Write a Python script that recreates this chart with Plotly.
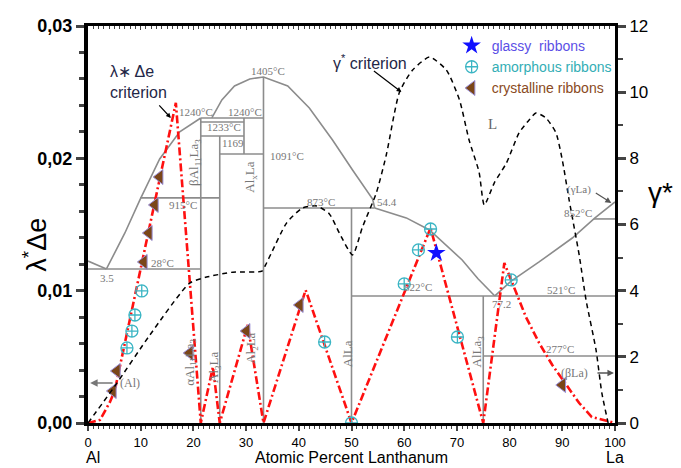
import plotly.graph_objects as go

# ---------------- data ----------------
# lambda*delta-e criterion (left axis)
lam_x = [0, 2.27, 4.17, 5.11, 16.67, 21.4, 23.7, 25.0, 30.3, 33.3, 41.3, 50.0, 65.0, 75.0, 79.0, 83.1, 85.6, 88.1, 93.2, 95.6, 100]
lam_y = [0, 0.00023, 0.00159, 0.0025, 0.02419, 0, 0.00423, 0, 0.00741, 0, 0.01005, 0, 0.01474, 0, 0.01209, 0.00801, 0.00605, 0.00438, 0.00151, 0.00045, 0]

# gamma* criterion (right axis)
gam_x = [0, 5.11, 11.74, 19.3, 22.5, 27.5, 33.0, 33.7, 34.8, 37.7, 40.7, 43.4, 45.8, 47.7, 50.2, 52.1, 54.7, 56.6, 59.1, 61.6, 64.8, 68.0, 70.5, 72.3, 74.2, 75.2, 77.1, 79.4, 81.8, 83.7, 85.0, 86.9, 88.8, 90.0, 91.3, 93.2, 94.5, 96.4, 97.5, 98.7]
gam_y = [0, 1.12, 2.66, 4.23, 4.41, 4.56, 4.59, 4.78, 5.14, 6.05, 6.50, 6.56, 6.32, 5.74, 5.08, 5.93, 6.95, 8.10, 10.0, 10.67, 11.06, 10.67, 9.76, 8.56, 7.59, 6.59, 7.26, 7.86, 8.77, 9.16, 9.37, 9.22, 8.77, 7.95, 6.74, 5.08, 3.72, 2.21, 0.91, 0]

# ribbons
glassy_x = [66.1]
glassy_y = [0.01285]
amorph_x = [7.39, 8.33, 8.9, 10.2, 44.9, 50.0, 60.0, 62.7, 65.0, 70.1, 80.3]
amorph_y = [0.00567, 0.00695, 0.00816, 0.00998, 0.00612, 0.0, 0.01051, 0.01308, 0.01466, 0.0065, 0.01081]
cryst_x = [4.73, 5.49, 10.6, 11.55, 12.7, 13.6, 19.3, 30.1, 40.2, 90.0]
cryst_y = [0.00242, 0.00393, 0.01217, 0.01436, 0.01648, 0.01859, 0.00529, 0.00695, 0.00892, 0.00287]

# Al-La phase diagram background (drawn in left-axis units)
liq_al_x = [0, 3.5]
liq_al_y = [0.01224, 0.01164]
liq1_x = [3.5, 7.0, 9.85, 13.6, 17.4, 21.4]
liq1_y = [0.01164, 0.01436, 0.01686, 0.01995, 0.0220, 0.02305]
dome_x = [23.5, 25.4, 27.8, 30.7, 33.3, 37.9, 42.0, 46.4, 50.2, 54.0, 54.4]
dome_y = [0.02305, 0.02441, 0.02547, 0.0260, 0.02615, 0.02547, 0.02381, 0.02139, 0.01912, 0.01693, 0.01625]
liq2_x = [54.4, 60.4, 64.8, 68.0, 71.0, 74.0, 77.2]
liq2_y = [0.01625, 0.0155, 0.01459, 0.01345, 0.01232, 0.0109, 0.0096]
liq3_x = [77.2, 80.3, 85.6, 91.9, 96.2, 100]
liq3_y = [0.0096, 0.01073, 0.01217, 0.01398, 0.0155, 0.0167]

iso_x0 = [0, 9.9, 21.4, 21.4, 21.4, 25, 33.3, 50, 75, 96.0]
iso_x1 = [21.4, 25, 33.3, 29.6, 29.6, 33.3, 54.4, 100, 100, 100]
iso_y = [0.01164, 0.01701, 0.02305, 0.02275, 0.02169, 0.02033, 0.01625, 0.0096, 0.00506, 0.01542]

comp_x = [21.4, 25, 29.6, 33.3, 50, 75]
comp_y0 = [0, 0, 0.02033, 0, 0, 0]
comp_y1 = [0.02305, 0.02169, 0.02305, 0.02615, 0.01625, 0.0096]

pd_labels = ["1240°C", "1240°C", "1233°C", "1169", "1091°C", "1405°C", "915°C", "28°C", "3.5",
             "873°C", "54.4", "822°C", "521°C", "77.2", "277°C", "852°C"]
pd_label_x = [20.5, 29.7, 25.8, 27.5, 37.7, 34.1, 18.0, 14.2, 3.6, 44.3, 56.8, 62.7, 89.8, 78.4, 89.6, 93.0]
pd_label_y = [0.02351, 0.02351, 0.02237, 0.02116, 0.02018, 0.02661, 0.01648, 0.01209, 0.01096,
              0.0167, 0.0167, 0.01028, 0.01005, 0.0090, 0.00559, 0.01587]

phase_names = ["βAl<sub>11</sub>La<sub>3</sub>", "Al<sub>x</sub>La", "αAl<sub>11</sub>La<sub>3</sub>",
               "Al<sub>3</sub>La", "Al<sub>2</sub>La", "AlLa", "AlLa<sub>3</sub>"]
phase_x = [20.3, 30.9, 19.5, 23.9, 31.1, 49.4, 73.9]
phase_y = [0.01973, 0.0186, 0.00461, 0.00423, 0.00567, 0.00522, 0.00544]

x_ticks = list(range(0, 101, 10))
y_ticks = [0, 0.01, 0.02, 0.03]
y_tick_text = ["0,00", "0,01", "0,02", "0,03"]
y2_ticks = list(range(0, 13, 2))

# ---------------- figure ----------------
GRAY = "#8c8c8c"
fig = go.Figure()

# phase diagram lines
px_, py_ = [], []
for xs, ys in [(liq_al_x, liq_al_y), (liq1_x, liq1_y), (dome_x, dome_y), (liq2_x, liq2_y), (liq3_x, liq3_y)]:
    px_ += xs + [None]
    py_ += ys + [None]
for a, b, c in zip(iso_x0, iso_x1, iso_y):
    px_ += [a, b, None]
    py_ += [c, c, None]
for a, b, c in zip(comp_x, comp_y0, comp_y1):
    px_ += [a, a, None]
    py_ += [b, c, None]
fig.add_trace(go.Scatter(x=px_, y=py_, mode="lines", line=dict(color=GRAY, width=1.6),
                         showlegend=False, hoverinfo="skip"))

# gamma curve
fig.add_trace(go.Scatter(x=gam_x, y=gam_y, yaxis="y2", mode="lines", line_shape="spline",
                         line=dict(color="black", width=1.5, dash="5px,4px", smoothing=0.6),
                         showlegend=False, hoverinfo="skip"))
# lambda curve
fig.add_trace(go.Scatter(x=lam_x, y=lam_y, mode="lines",
                         line=dict(color="#ff1010", width=2.6, dash="8px,3px,2px,3px"),
                         showlegend=False, hoverinfo="skip"))

# markers
fig.add_trace(go.Scatter(x=glassy_x, y=glassy_y, mode="markers",
                         name="<span style='color:#5b4fe6'>glassy&nbsp; ribbons</span>",
                         marker=dict(symbol="star", size=14, color="#1010ff", line=dict(width=0))))
fig.add_trace(go.Scatter(x=amorph_x, y=amorph_y, mode="markers",
                         name="<span style='color:#33aeb5'>amorphous ribbons</span>",
                         marker=dict(symbol="circle-cross-open", size=12, color="#3bb5c4", line=dict(width=1.3))))
fig.add_trace(go.Scatter(x=cryst_x, y=cryst_y, mode="markers",
                         name="<span style='color:#8a4a22'>crystalline ribbons</span>",
                         marker=dict(symbol="triangle-left", size=13, color="#7a4618",
                                     line=dict(width=1, color="#9a90d8"))))

# invisible trace for the top axis
fig.add_trace(go.Scatter(x=[0, 100], y=[0, 0], xaxis="x2", mode="lines",
                         line=dict(width=0), showlegend=False, hoverinfo="skip"))

ann = []
for t, x, y in zip(pd_labels, pd_label_x, pd_label_y):
    ann.append(dict(x=x, y=y, xref="x", yref="y", text=t, showarrow=False,
                    font=dict(family="Liberation Serif", size=11, color="#777777")))
for t, x, y in zip(phase_names, phase_x, phase_y):
    ann.append(dict(x=x, y=y, xref="x", yref="y", text=t, showarrow=False, textangle=-90,
                    font=dict(family="Liberation Serif", size=13, color="#777777")))
ann.append(dict(x=76.7, y=0.0226, xref="x", yref="y", text="L", showarrow=False,
                font=dict(family="Liberation Serif", size=15, color="#666666")))
# small labels with arrows
ann.append(dict(x=0.4, y=0.00302, xref="x", yref="y", text="", showarrow=True, ax=24, ay=0,
                arrowhead=2, arrowsize=1, arrowwidth=1.5, arrowcolor="#777777"))
ann.append(dict(x=7.9, y=0.00302, xref="x", yref="y", text="(Al)", showarrow=False,
                font=dict(family="Liberation Serif", size=12, color="#777777")))
ann.append(dict(x=99.8, y=0.00378, xref="x", yref="y", text="", showarrow=True, ax=-18, ay=0,
                arrowhead=2, arrowsize=1, arrowwidth=1.3, arrowcolor="#555555"))
ann.append(dict(x=92.4, y=0.00378, xref="x", yref="y", text="(βLa)", showarrow=False,
                font=dict(family="Liberation Serif", size=12, color="#777777")))
ann.append(dict(x=99.3, y=0.01663, xref="x", yref="y", text="", showarrow=True, ax=-17, ay=-11,
                arrowhead=2, arrowsize=1, arrowwidth=1.2, arrowcolor="#555555"))
ann.append(dict(x=93.2, y=0.01761, xref="x", yref="y", text="(γLa)", showarrow=False,
                font=dict(family="Liberation Serif", size=11, color="#777777")))
# criterion labels
ann.append(dict(x=(108 - 88) / 5.28, y=(423 - 82) / 13230, xref="x", yref="y",
                text="λ∗ Δe<br>criterion", showarrow=False, xanchor="left", align="left",
                font=dict(family="Arial", size=16, color="#1f2747")))
ann.append(dict(x=(171 - 88) / 5.28, y=(423 - 118) / 13230, xref="x", yref="y", text="",
                showarrow=True, ax=-13, ay=-14, arrowhead=2, arrowsize=0.8, arrowwidth=1.2,
                arrowcolor="black"))
ann.append(dict(x=(371 - 88) / 5.28, y=(423 - 62) / 13230, xref="x", yref="y",
                text="γ<sup>*</sup> criterion", showarrow=False,
                font=dict(family="Arial", size=16, color="#1f2747")))
ann.append(dict(x=(402 - 88) / 5.28, y=(423 - 92) / 13230, xref="x", yref="y", text="",
                showarrow=True, ax=-29, ay=-22, arrowhead=2, arrowsize=0.8, arrowwidth=1.2,
                arrowcolor="black"))
# axis titles
ann.append(dict(x=-0.10, y=0.45, xref="paper", yref="paper", text="λ<sup>*</sup>Δe",
                xanchor="center", yanchor="middle",
                showarrow=False, textangle=-90, font=dict(family="Arial", size=27, color="black")))
ann.append(dict(x=(662 - 88) / 528, y=(423 - 193) / 397, xref="paper", yref="paper", text="γ*",
                xanchor="center", yanchor="middle",
                showarrow=False, font=dict(family="Arial", size=28, color="black")))
YB = (423 - 457) / 397
ann.append(dict(x=0.5, y=YB, xref="paper", yref="paper", text="Atomic Percent Lanthanum",
                xanchor="center", yanchor="middle",
                showarrow=False, font=dict(family="Arial", size=16, color="black")))
ann.append(dict(x=(93 - 88) / 528, y=YB, xref="paper", yref="paper", text="Al",
                xanchor="center", yanchor="middle",
                showarrow=False, font=dict(family="Arial", size=16, color="black")))
ann.append(dict(x=1.0, y=YB, xref="paper", yref="paper", text="La",
                xanchor="center", yanchor="middle",
                showarrow=False, font=dict(family="Arial", size=16, color="black")))

fig.update_layout(
    width=681, height=468,
    margin=dict(l=88, r=66, t=26, b=45),
    paper_bgcolor="white", plot_bgcolor="white",
    font=dict(family="Arial", color="black"),
    annotations=ann,
    xaxis=dict(range=[0, 100], tickvals=x_ticks, ticks="outside", ticklen=5, tickwidth=1.5,
               minor=dict(dtick=1, ticks="outside", ticklen=3, tickwidth=1),
               showline=True, linewidth=3, linecolor="black", showgrid=False, zeroline=False,
               tickfont=dict(size=13)),
    xaxis2=dict(range=[0, 100], overlaying="x", side="top", tickvals=x_ticks, ticks="inside",
                ticklen=4, tickwidth=1, showticklabels=False,
                minor=dict(dtick=1, ticks="inside", ticklen=3, tickwidth=1),
                showline=True, linewidth=3, linecolor="black", showgrid=False, zeroline=False),
    yaxis=dict(range=[0, 0.03], tickvals=y_ticks, ticktext=y_tick_text, ticks="outside",
               ticklen=8, tickwidth=3, minor=dict(dtick=0.002, ticks="outside", ticklen=5, tickwidth=2.5),
               showline=True, linewidth=4, linecolor="black", showgrid=False, zeroline=False,
               tickfont=dict(size=18, weight="bold")),
    yaxis2=dict(range=[0, 12], overlaying="y", side="right", tickvals=y2_ticks, ticks="outside",
                ticklen=8, tickwidth=2.5, minor=dict(dtick=1, ticks="outside", ticklen=5, tickwidth=2),
                showline=True, linewidth=3, linecolor="black", showgrid=False, zeroline=False,
                tickfont=dict(size=17)),
    legend=dict(x=0.69, y=0.99, xanchor="left", yanchor="top", bgcolor="rgba(0,0,0,0)",
                font=dict(size=14), itemwidth=30, tracegroupgap=0),
)

fig.write_html("out.html")
